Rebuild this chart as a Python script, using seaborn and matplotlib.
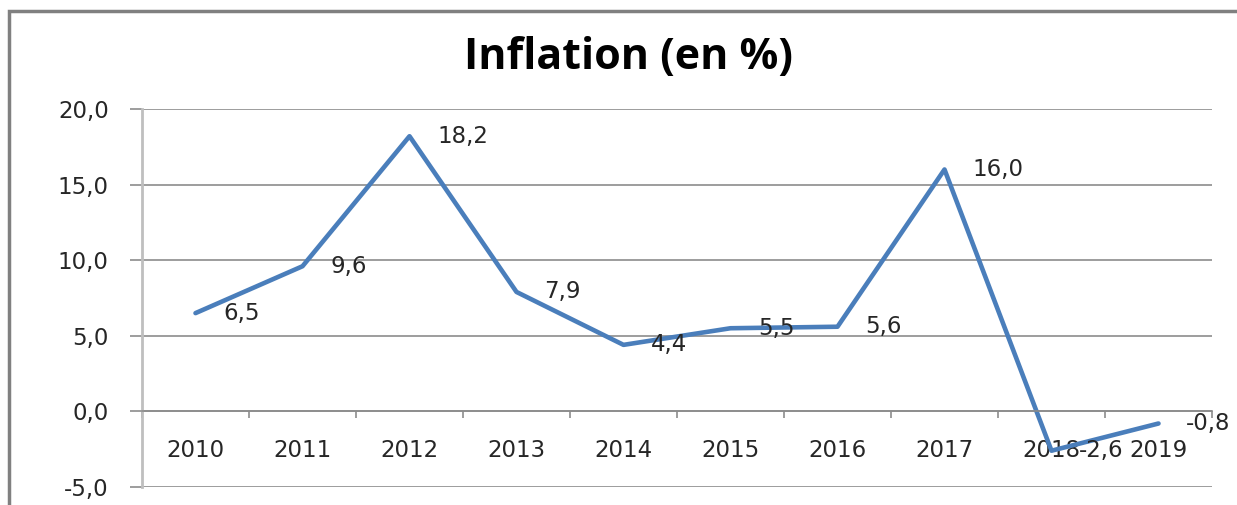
import matplotlib
matplotlib.use("Agg")
import matplotlib.pyplot as plt
import seaborn as sns
import pandas as pd
from matplotlib.patches import Rectangle

# data
years = ["2010", "2011", "2012", "2013", "2014", "2015", "2016", "2017", "2018", "2019"]
inflation = [6.5, 9.6, 18.2, 7.9, 4.4, 5.5, 5.6, 16.0, -2.6, -0.8]
y_ticks = [-5, 0, 5, 10, 15, 20]

df = pd.DataFrame({"year": years, "inflation": inflation})

sns.set_theme(style="white")
plt.rcParams["font.family"] = ["DejaVu Sans"]

fig = plt.figure(figsize=(12.37, 5.05), dpi=100)
ax = fig.add_axes([142 / 1237, 18 / 505, 1070 / 1237, 378 / 505])

sns.lineplot(data=df, x="year", y="inflation", ax=ax, color="#4a7ebb",
             linewidth=3.3, sort=False)

FS = 16.5
ax.set_xlim(-0.5, len(years) - 0.5)
ax.set_ylim(-5, 20)
ax.set_yticks(y_ticks)
ax.set_yticklabels([f"{v:.1f}".replace(".", ",") for v in y_ticks],
                   fontsize=FS, color="#262626")
ax.tick_params(axis="y", length=9, width=1.2, color="#8c8c8c", pad=15, direction="out", left=True)
ax.yaxis.grid(True, color="#8c8c8c", linewidth=1.2)
ax.set_axisbelow(True)

# category ticks at boundaries on the zero line, labels in the middle
ax.spines["bottom"].set_position(("data", 0))
ax.spines["bottom"].set_color("#8c8c8c")
ax.spines["bottom"].set_linewidth(1.2)
ax.set_xticks([i + 0.5 for i in range(-1, len(years))])
ax.set_xticklabels([])
ax.set_xticks(range(len(years)), minor=True)
ax.set_xticklabels(years, minor=True, fontsize=FS, color="#262626")
ax.tick_params(axis="x", which="major", length=5, width=1.2, color="#8c8c8c",
               direction="out", bottom=True)
ax.tick_params(axis="x", which="minor", length=0, pad=20, bottom=True)

ax.spines["left"].set_color("#bfbfbf")
ax.spines["left"].set_linewidth(2)
for s in ["top", "right"]:
    ax.spines[s].set_visible(False)
ax.set_xlabel("")
ax.set_ylabel("")

for i, v in enumerate(inflation):
    ax.annotate(f"{v:.1f}".replace(".", ","), xy=(i, v), xytext=(20, 0),
                textcoords="offset points", ha="left", va="center",
                fontsize=FS, color="#262626", annotation_clip=False)

fig.text(629 / 1237, 1 - 57 / 505, "Inflation (en %)", ha="center", va="center",
         fontsize=31, fontweight="bold", color="black", family=["Open Sans", "DejaVu Sans"])

# outer chart frame
fig.patches.append(Rectangle((9 / 1237, -0.05), 1.1, 1 - 11 / 505 + 0.05,
                             transform=fig.transFigure, fill=False,
                             edgecolor="#808080", linewidth=2.5))

fig.savefig("out.png", dpi=100)
